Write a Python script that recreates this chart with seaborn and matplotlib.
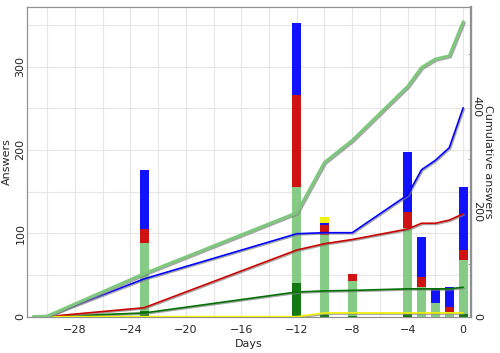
import numpy as np
import pandas as pd
import matplotlib
matplotlib.use('Agg')
import matplotlib.pyplot as plt
import matplotlib.patheffects as pe
from matplotlib.ticker import MultipleLocator
import seaborn as sns

days = [-31, -30, -23, -12, -10, -8, -4, -3, -2, -1, 0]
dark_green = [0, 0, 7, 40, 2, 1, 3, 0, 0, 0, 3]
light_green = [0, 1, 81, 116, 96, 42, 103, 36, 16, 6, 65]
red = [0, 0, 17, 110, 12, 8, 20, 11, 0, 6, 12]
blue = [0, 1, 71, 86, 2, 0, 72, 48, 18, 24, 76]
yellow = [0, 0, 0, 0, 7, 0, 0, 0, 0, 0, 0]

series = [('dark_green', dark_green, '#007000'),
          ('light_green', light_green, '#7dc87d'),
          ('red', red, '#cc0000'),
          ('blue', blue, '#0000ff'),
          ('yellow', yellow, '#f0f000')]

df = pd.DataFrame({'day': days})
for name, vals, _ in series:
    df[name] = vals
    df['cum_' + name] = np.cumsum(vals)

PLOTSTYLE = {'axes.edgecolor': '#909090', 'grid.color': '#e6e6e6', 'grid.linewidth': 0.8}
sns.set_style('whitegrid', rc=PLOTSTYLE)
plt.rcParams['font.family'] = ['DejaVu Sans']

fig = plt.figure(figsize=(5, 3.53), dpi=100)
ax = fig.add_axes([0.054, 0.103, 0.887, 0.877])

bottom = np.zeros(len(days))
for name, vals, color in series:
    ax.bar(df['day'], df[name], width=0.65, bottom=bottom, color=color, alpha=0.93, linewidth=0, zorder=2)
    bottom += df[name].values

ax.set_xlim(-31.45, 0.53)
ax.set_ylim(0, bottom.max() * 1.055)
ax.xaxis.set_major_locator(MultipleLocator(4))
ax.xaxis.set_minor_locator(MultipleLocator(2))
ax.yaxis.set_major_locator(MultipleLocator(100))
ax.yaxis.set_minor_locator(MultipleLocator(50))
ax.grid(True, which='both', zorder=0)
ax.set_axisbelow(True)
ax.tick_params(axis='both', which='both', length=0, labelsize=8)
ax.tick_params(axis='x', pad=6)
ax.tick_params(axis='y', pad=1)
for lab in ax.get_yticklabels():
    lab.set_rotation(90)
    lab.set_va('center')
ax.set_xlabel('Days', fontsize=8, labelpad=3)
ax.set_ylabel('Answers', fontsize=8, labelpad=3)

ax2 = ax.twinx()
ax2.grid(False)
shadow = [pe.SimpleLineShadow(offset=(0.8, -0.8), shadow_color='gray', alpha=0.7), pe.Normal()]
for name, vals, color in series:
    lw = 2.2 if name == 'light_green' else 1.2
    sns.lineplot(data=df, x='day', y='cum_' + name, color=color, linewidth=lw,
                 path_effects=shadow, ax=ax2, zorder=3 if name != 'light_green' else 4)
ax2.set_ylim(0, df['cum_light_green'].max() * 1.05)
ax2.yaxis.set_major_locator(MultipleLocator(200))
ax2.yaxis.set_minor_locator(MultipleLocator(100))
ax2.tick_params(axis='y', which='major', length=0, labelsize=8, pad=1)
ax2.tick_params(axis='y', which='minor', length=2, direction='in', color='#909090')
for lab in ax2.get_yticklabels():
    lab.set_rotation(-90)
    lab.set_va('center')
ax2.set_ylabel('Cumulative answers', fontsize=8, rotation=-90, va='center', ha='center')
ax2.yaxis.set_label_coords(1.04, 0.5)
ax2.set_xlabel('')
for sp in ax2.spines.values():
    sp.set_color('#909090')
ax2.spines['right'].set_linewidth(1.6)

fig.savefig('out.png', dpi=100)
